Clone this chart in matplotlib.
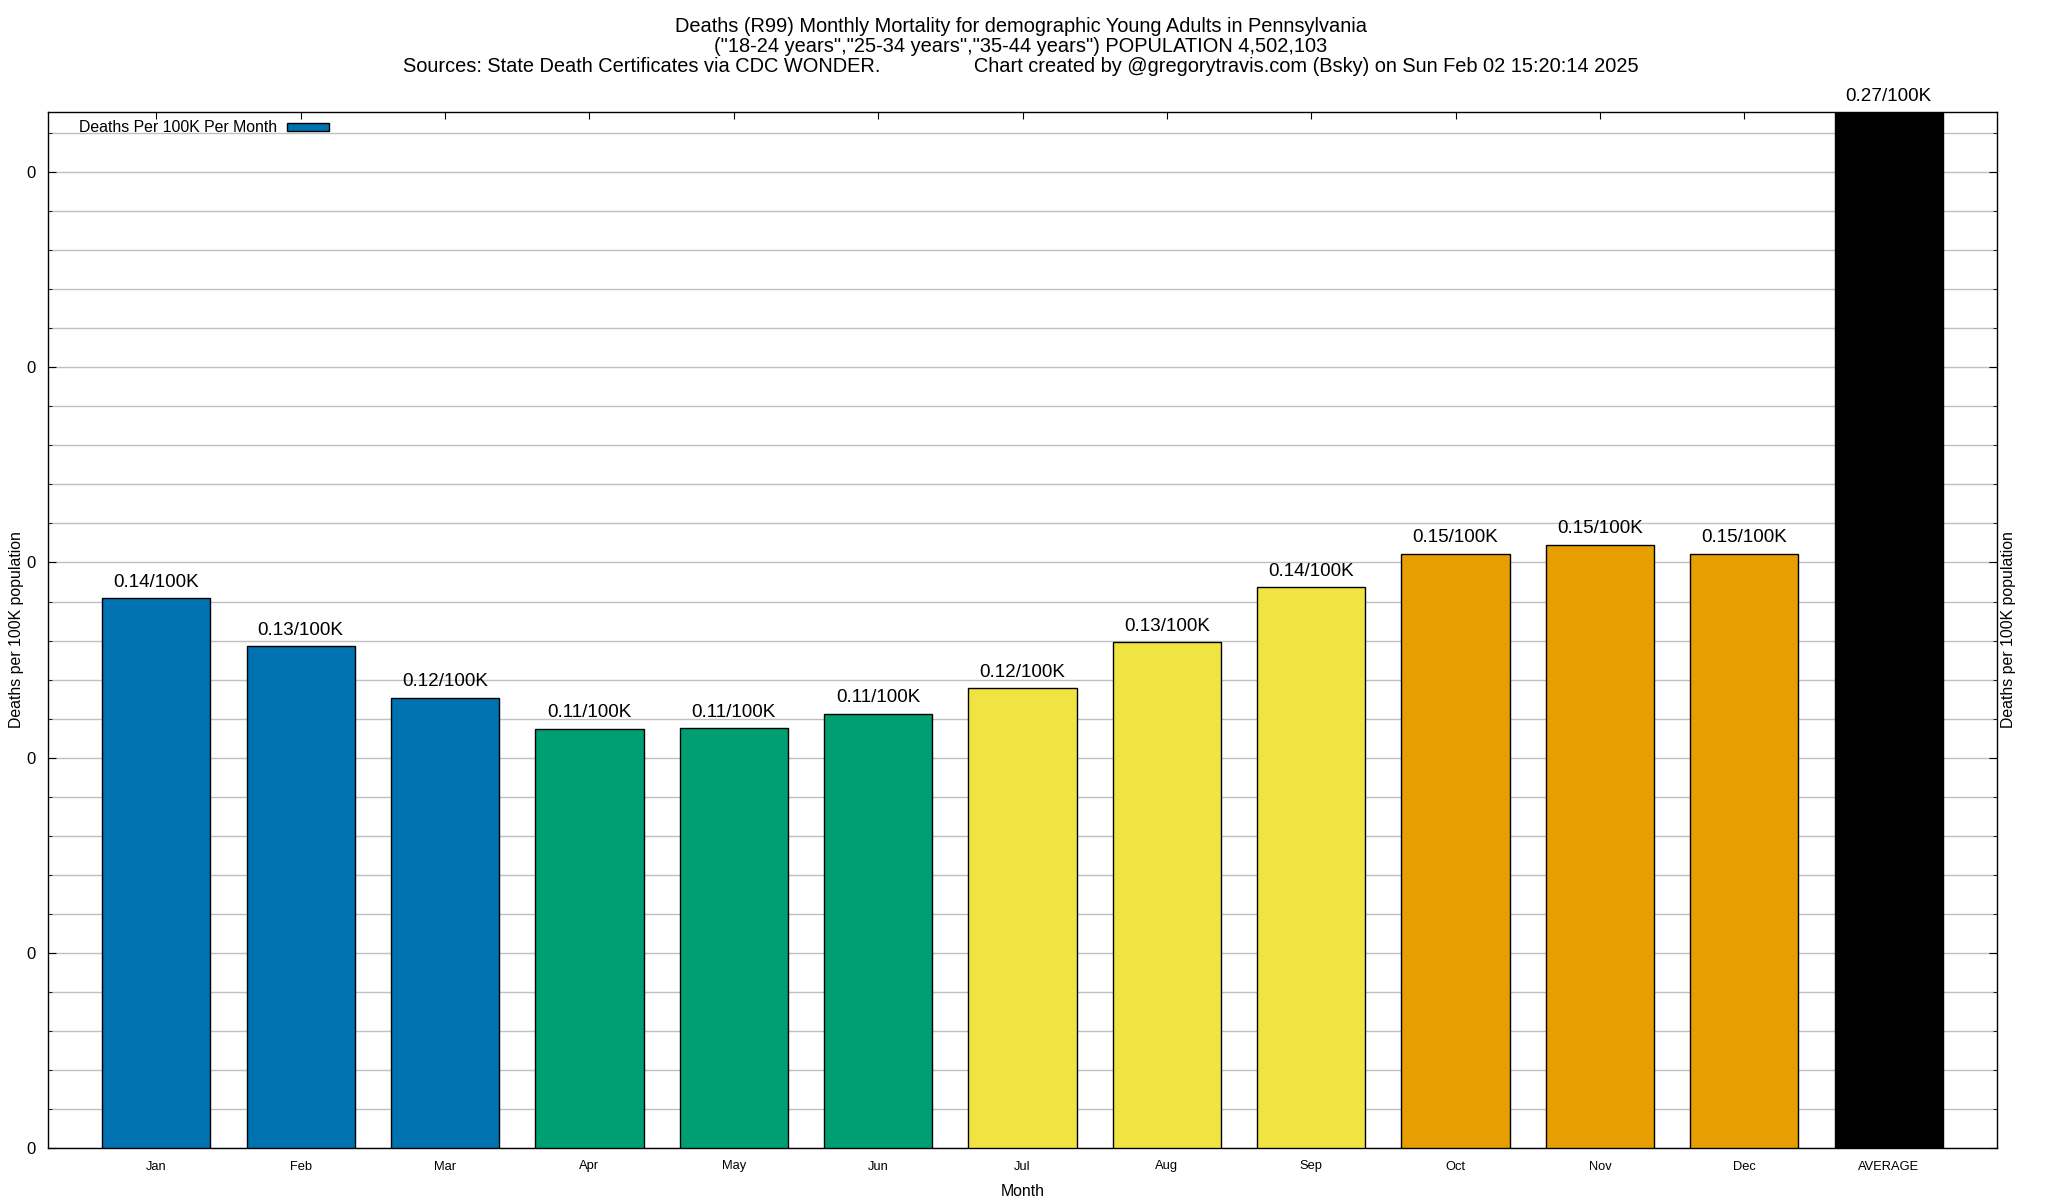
import matplotlib
matplotlib.use('Agg')
import matplotlib.pyplot as plt
from matplotlib.ticker import MultipleLocator, FormatStrFormatter
from matplotlib.patches import Rectangle

plt.rcParams['font.family'] = ['Liberation Sans', 'DejaVu Sans']

months = ['Jan', 'Feb', 'Mar', 'Apr', 'May', 'Jun', 'Jul', 'Aug', 'Sep', 'Oct', 'Nov', 'Dec', 'AVERAGE']
values = [0.1408, 0.1285, 0.1154, 0.1074, 0.1076, 0.1112, 0.1178, 0.1295, 0.1436, 0.1522, 0.1546, 0.1522, 0.2654]
bar_labels = ['0.14/100K', '0.13/100K', '0.12/100K', '0.11/100K', '0.11/100K', '0.11/100K',
              '0.12/100K', '0.13/100K', '0.14/100K', '0.15/100K', '0.15/100K', '0.15/100K', '0.27/100K']
colors = ['#0072b2'] * 3 + ['#009e73'] * 3 + ['#f0e442'] * 3 + ['#e69f00'] * 3 + ['#000000']

title_lines = [
    'Deaths (R99) Monthly Mortality for demographic Young Adults in Pennsylvania',
    '("18-24 years","25-34 years","35-44 years") POPULATION 4,502,103',
    'Sources: State Death Certificates via CDC WONDER.' + ' ' * 17 +
    'Chart created by @gregorytravis.com (Bsky) on Sun Feb 02 15:20:14 2025',
]
legend_label = 'Deaths Per 100K Per Month'
ylabel = 'Deaths per 100K population'
xlabel = 'Month'

W, H = 2048, 1200
fig = plt.figure(figsize=(W / 100, H / 100), dpi=100)
L, R, T, B = 48, 1997, 112, 1148
ax = fig.add_axes([L / W, 1 - B / H, (R - L) / W, (B - T) / H])

xs = list(range(len(months)))
bars = ax.bar(xs, values, width=0.75, color=colors, edgecolor='black', linewidth=1.0, zorder=3)
ax.set_xlim(-0.75, len(months) - 0.25)
ymax = max(values)
ax.set_ylim(0, ymax)

ax.yaxis.set_major_locator(MultipleLocator(0.05))
ax.yaxis.set_minor_locator(MultipleLocator(0.01))
ax.yaxis.set_major_formatter(FormatStrFormatter('%.0f'))
ax.grid(True, which='both', axis='y', color='#c0c0c0', lw=1.0, zorder=0)
ax.set_axisbelow(True)
ax.tick_params(axis='y', which='both', direction='in', left=True, right=True)
ax.tick_params(axis='y', which='major', length=6, labelsize=12, pad=9)
ax.tick_params(axis='y', which='minor', length=3)
ax.set_xticks(xs)
ax.set_xticklabels(months)
ax.tick_params(axis='x', direction='in', top=True, bottom=True, length=5, labelsize=9.3, pad=9)
for sp in ax.spines.values():
    sp.set_linewidth(1.0)

for xi, v, lab in zip(xs, values, bar_labels):
    ax.annotate(lab, (xi, min(v, ymax)), xytext=(0, 11.5), textcoords='offset points',
                ha='center', va='center', fontsize=13.6, annotation_clip=False)

# titles
cx = 1021 / W
for yb, line in zip([32, 51.5, 72], title_lines):
    fig.text(cx, 1 - yb / H, line, ha='center', va='baseline', fontsize=14.4)

# axis labels
fig.text(17 / W, 1 - 630 / H, ylabel, rotation=90, ha='center', va='center', fontsize=11.4)
fig.text(2009 / W, 1 - 630 / H, ylabel, rotation=90, ha='center', va='center', fontsize=11.4)
fig.text(((L + R) / 2) / W, 1 - 1191 / H, xlabel, ha='center', va='center', fontsize=11.4)

# legend (gnuplot style: text then sample)
fig.text(79 / W, 1 - 127 / H, legend_label, ha='left', va='center', fontsize=11.4)
fig.patches.append(Rectangle((287 / W, 1 - 131 / H), 42 / W, 8 / H, transform=fig.transFigure,
                             facecolor=colors[0], edgecolor='black', linewidth=1.0))

fig.savefig('out.png', dpi=100)
